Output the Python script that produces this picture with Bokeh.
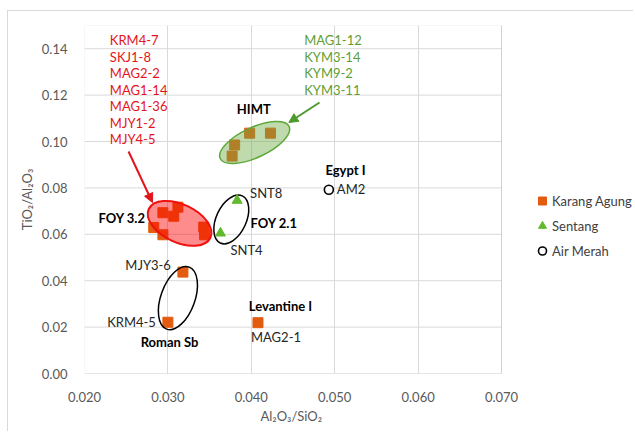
from bokeh.plotting import figure
from bokeh.models import (FixedTicker, NumeralTickFormatter, Legend, LegendItem,
                          Arrow, NormalHead, ColumnDataSource, Range1d, BoxAnnotation,
                          Title)
from bokeh.core.properties import value
from bokeh.embed import file_html
from bokeh.resources import INLINE

FONT = "Lato"

# ---------------- data ----------------
# Karang Agung (orange squares)
ka_names = ["KRM4-7", "SKJ1-8", "MAG2-2", "MAG1-14", "MAG1-36", "MJY1-2", "MJY4-5",
            "MAG1-12", "KYM3-14", "KYM9-2", "KYM3-11",
            "MJY3-6", "KRM4-5", "MAG2-1"]
ka_x = [0.0283, 0.0294, 0.0307, 0.0312, 0.0294, 0.0343, 0.0344,
        0.0398, 0.0423, 0.0380, 0.0377,
        0.0318, 0.0300, 0.0408]
ka_y = [0.0629, 0.0693, 0.0678, 0.0717, 0.0598, 0.0631, 0.0598,
        0.1036, 0.1036, 0.0985, 0.0937,
        0.0437, 0.0221, 0.0219]

# Sentang (green triangles)
snt_names = ["SNT8", "SNT4"]
snt_x = [0.0383, 0.0363]
snt_y = [0.0746, 0.0605]

# Air Merah (open circles)
am_names = ["AM2"]
am_x = [0.0493]
am_y = [0.0792]

x_min, x_max = 0.02, 0.07
y_min, y_max = 0.00, 0.15
x_ticks = [0.02, 0.03, 0.04, 0.05, 0.06, 0.07]
y_ticks = [0.00, 0.02, 0.04, 0.06, 0.08, 0.10, 0.12, 0.14]

red_list = ["KRM4-7", "SKJ1-8", "MAG2-2", "MAG1-14", "MAG1-36", "MJY1-2", "MJY4-5"]
green_list = ["MAG1-12", "KYM3-14", "KYM9-2", "KYM3-11"]

# reference-group labels
grp_names = ["HIMT", "Egypt I", "FOY 3.2", "FOY 2.1", "Roman Sb", "Levantine I"]
grp_x = [0.0403, 0.0513, 0.0245, 0.0399, 0.0302, 0.0435]
grp_y = [0.1138, 0.0879, 0.0669, 0.0648, 0.0135, 0.0293]
grp_align = ["center", "center", "center", "left", "center", "center"]

# group ellipses (centres in data units)
ell_x = [0.0314, 0.0404, 0.0376, 0.0312]
ell_y = [0.0647, 0.0996, 0.0664, 0.0325]

# ---------------- figure ----------------
# plot area is 417 px for 0.02..0.07; the frame is extended to the right so that
# the legend (outside the plot area) sits inside the drawable frame.
W, LEFT, RIGHT = 626, 76, 0
plot_px = 417
x_end = x_min + (W - LEFT - RIGHT) / plot_px * (x_max - x_min)

p = figure(width=W, height=421, output_backend="svg", toolbar_location=None,
           x_range=Range1d(x_min, x_end), y_range=Range1d(y_min, y_max),
           min_border_left=LEFT, min_border_right=RIGHT, min_border_top=14,
           min_border_bottom=59)
p.styles = {"margin-left": "7px", "margin-top": "10px",
            "border-left": "1px solid #d9d9d9", "border-top": "1px solid #d9d9d9"}
p.outline_line_color = None
p.background_fill_color = "white"
p.border_fill_color = "white"

for ax in (p.xaxis[0], p.yaxis[0]):
    ax.axis_line_color = None
    ax.major_tick_line_color = None
    ax.minor_tick_line_color = None
    ax.major_label_text_font = FONT
    ax.major_label_text_font_size = "13px"
    ax.major_label_text_color = "#595959"
    ax.axis_label_text_font = FONT
    ax.axis_label_text_font_size = "13px"
    ax.axis_label_text_font_style = "normal"
    ax.axis_label_text_color = "#595959"

p.xaxis.ticker = FixedTicker(ticks=x_ticks)
p.yaxis.ticker = FixedTicker(ticks=y_ticks)
p.xaxis.formatter = NumeralTickFormatter(format="0.000")
p.yaxis.formatter = NumeralTickFormatter(format="0.00")
p.xaxis.major_label_standoff = 12
p.yaxis.major_label_standoff = 11
p.yaxis.axis_label = "TiO\u2082/Al\u2082O\u2083"
p.yaxis.axis_label_standoff = 4

xtitle = Title(text="Al\u2082O\u2083/SiO\u2082", align="left", offset=176, standoff=2,
               text_font=FONT, text_font_size="13px", text_font_style="normal",
               text_color="#595959")
p.add_layout(xtitle, "below")

p.xgrid.ticker = FixedTicker(ticks=x_ticks)
p.xgrid.grid_line_color = "#d9d9d9"
p.ygrid.grid_line_color = None
# horizontal grid lines limited to the plot area
p.segment(x0=[x_min] * len(y_ticks), x1=[x_max] * len(y_ticks), y0=y_ticks, y1=y_ticks,
          line_color="#d9d9d9", line_width=1)
p.add_layout(BoxAnnotation(left=x_min, right=x_max, bottom=y_min, top=y_max,
                           fill_alpha=0, line_color="#bfbfbf", line_width=1))

ORANGE = "#e35b0f"
GREEN = "#62b92e"

ka_src = ColumnDataSource(dict(x=ka_x, y=ka_y, name=ka_names))
r_ka = p.scatter("x", "y", source=ka_src, marker="square", size=10,
                 fill_color=ORANGE, line_color=ORANGE)

# ellipses over the squares (semi transparent)
p.ellipse(x=[ell_x[0]], y=[ell_y[0]], width=68, height=38, angle=-25,
          width_units="screen", height_units="screen", angle_units="deg",
          fill_color="#ff0000", fill_alpha=0.45, line_color="#f01010", line_width=2)
p.ellipse(x=[ell_x[1]], y=[ell_y[1]], width=76, height=30, angle=25,
          width_units="screen", height_units="screen", angle_units="deg",
          fill_color="#70ad47", fill_alpha=0.45, line_color="#5ea83a", line_width=1.5)
p.ellipse(x=ell_x[2:], y=ell_y[2:], width=[52, 66], height=[30, 34], angle=[65, 70],
          width_units="screen", height_units="screen", angle_units="deg",
          fill_color=None, line_color="black", line_width=1.5)

snt_src = ColumnDataSource(dict(x=snt_x, y=snt_y, name=snt_names))
r_snt = p.scatter("x", "y", source=snt_src, marker="triangle", size=10,
                  fill_color=GREEN, line_color=GREEN)
am_src = ColumnDataSource(dict(x=am_x, y=am_y, name=am_names))
r_am = p.scatter("x", "y", source=am_src, marker="circle", size=9,
                 fill_color="white", line_color="black", line_width=1.6)

# ---------------- point labels ----------------
def plabel(src_x, src_y, txt, dx, dy, align):
    p.text(x=[src_x], y=[src_y], text=[txt], x_offset=dx, y_offset=dy,
           text_font=value(FONT), text_font_size="13px", text_color="#262626",
           text_align=align, text_baseline="middle")

plabel(snt_x[0], snt_y[0], snt_names[0], 13, -7, "left")
plabel(snt_x[1], snt_y[1], snt_names[1], 10, 17, "left")
plabel(ka_x[11], ka_y[11], ka_names[11], -12, -7, "right")
plabel(ka_x[12], ka_y[12], ka_names[12], -12, 0, "right")
plabel(ka_x[13], ka_y[13], ka_names[13], -7, 14, "left")
plabel(am_x[0], am_y[0], am_names[0], 8, -1, "left")

# group labels (bold)
for nm, gx, gy, al in zip(grp_names, grp_x, grp_y, grp_align):
    p.text(x=[gx], y=[gy], text=[nm], text_font=value(FONT), text_font_size="13px",
           text_font_style="bold", text_color="black", text_align=al,
           text_baseline="middle")

# sample lists
p.text(x=[0.02304] * len(red_list), y=[0.1437] * len(red_list), text=red_list,
       y_offset=[i * 16.5 for i in range(len(red_list))],
       text_font=value(FONT), text_font_size="13px", text_color="#e3141b",
       text_align="left", text_baseline="middle")
p.text(x=[0.04634] * len(green_list), y=[0.1437] * len(green_list), text=green_list,
       y_offset=[i * 16.5 for i in range(len(green_list))],
       text_font=value(FONT), text_font_size="13px", text_color="#5f9e35",
       text_align="left", text_baseline="middle")

# arrows
p.add_layout(Arrow(x_start=0.02528, y_start=0.0957, x_end=0.02815, y_end=0.0737,
                   line_color="#e3141b", line_width=2,
                   end=NormalHead(size=9, fill_color="#e3141b", line_color="#e3141b")))
p.add_layout(Arrow(x_start=0.04818, y_start=0.1168, x_end=0.0445, y_end=0.1082,
                   line_color="#4e9a2a", line_width=2,
                   end=NormalHead(size=9, fill_color="#4e9a2a", line_color="#4e9a2a")))

# legend
legend = Legend(items=[LegendItem(label="Karang Agung", renderers=[r_ka]),
                       LegendItem(label="Sentang", renderers=[r_snt]),
                       LegendItem(label="Air Merah", renderers=[r_am])],
                location=(448, 110), border_line_color=None,
                background_fill_alpha=0, padding=0, margin=0, spacing=0,
                glyph_width=20, glyph_height=25, label_height=25, label_standoff=0,
                label_text_font=FONT, label_text_font_size="13px",
                label_text_color="#404040")
p.add_layout(legend, "center")

open("out.html", "w").write(file_html(p, INLINE))
